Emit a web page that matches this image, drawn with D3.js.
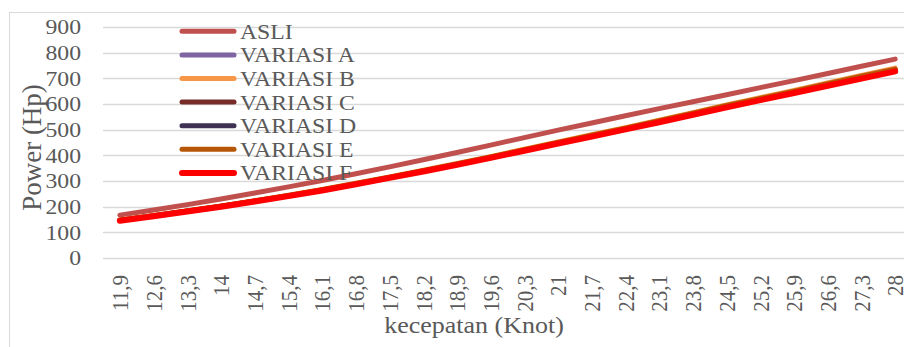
<!DOCTYPE html>
<html>
<head>
<meta charset="utf-8">
<script src="https://cdn.jsdelivr.net/npm/d3@7"></script>
<style>
  html, body { margin: 0; padding: 0; background: #fff; }
  svg { display: block; }
  text { font-family: "Liberation Serif", "Times New Roman", serif; fill: #595959; }
</style>
</head>
<body>
<div id="chart"></div>
<script>
const categories = ["11,9","12,6","13,3","14","14,7","15,4","16,1","16,8","17,5","18,2","18,9","19,6","20,3","21","21,7","22,4","23,1","23,8","24,5","25,2","25,9","26,6","27,3","28"];
const seriesNames = ["ASLI","VARIASI A","VARIASI B","VARIASI C","VARIASI D","VARIASI E","VARIASI F"];
const asli      = [167,187,208,230,253,277,302,328,355,383,411,440,469,498,526,554,582,609,636,664,691,719,747,775];
const variasiA  = [147,165,183,202,222,243,265,289,314,340,366,393,421,449,477,505,534,563,592,621,649,677,706,735];
const variasiB  = [148,166,184,203,223,245,267,291,316,342,368,395,424,452,480,508,537,566,596,625,653,682,711,740];
const variasiC  = [146,164,182,201,221,242,264,288,313,339,365,392,420,448,476,504,532,561,590,618,646,674,702,731];
const variasiD  = [146,164,182,201,221,242,264,288,313,338,364,391,419,447,475,502,531,560,589,617,645,673,701,730];
const variasiE  = [147,165,183,202,222,244,266,290,315,340,366,394,422,450,478,506,535,564,594,622,650,679,708,736];
const variasiF  = [145,163,181,200,220,241,263,287,312,337,363,390,418,446,473,501,529,558,587,615,643,671,699,727];
const yTicks = [0,100,200,300,400,500,600,700,800,900];
const colors = ["#C0504D","#8064A2","#F79646","#772C2A","#3F3151","#B65708","#FF0000"];
const widths = [5,5,5,5,5,5,6];

const allSeries = [asli, variasiA, variasiB, variasiC, variasiD, variasiE, variasiF];

const W = 904, H = 347;
const svg = d3.select("#chart").append("svg").attr("width", W).attr("height", H);

// chart border
svg.append("rect").attr("x", 9.5).attr("y", 12.5).attr("width", 1000).attr("height", 400)
  .attr("fill", "none").attr("stroke", "#d9d9d9").attr("stroke-width", 1);

const x = d3.scaleBand().domain(categories).range([103, 912]);
const y = d3.scaleLinear().domain([0, 900]).range([258, 27]);
const SX = 1.13;

// grid
svg.append("g").selectAll("line").data(yTicks).join("line")
  .attr("x1", 103).attr("x2", 912)
  .attr("y1", d => Math.round(y(d)) + 0.5).attr("y2", d => Math.round(y(d)) + 0.5)
  .attr("stroke", "#d9d9d9").attr("stroke-width", 1.3);

// y tick labels
svg.append("g").selectAll("text").data(yTicks).join("text")
  .attr("transform", d => `translate(81,${y(d) + 7.3}) scale(${SX},1)`)
  .attr("text-anchor", "end").attr("font-size", 21).text(d => d);

// x tick labels
svg.append("g").selectAll("text").data(categories).join("text")
  .attr("transform", d => `translate(${x(d) + x.bandwidth() / 2 + 8.3},275) scale(${SX},1) rotate(-90)`)
  .attr("text-anchor", "end").attr("font-size", 21).text(d => d);

// lines
const line = d3.line()
  .x((d, i) => x(categories[i]) + x.bandwidth() / 2)
  .y(d => y(d));
svg.append("g").selectAll("path").data(allSeries).join("path")
  .attr("d", d => line(d))
  .attr("fill", "none")
  .attr("stroke", (d, i) => colors[i])
  .attr("stroke-width", (d, i) => widths[i])
  .attr("stroke-linecap", "round").attr("stroke-linejoin", "round");

// legend
const leg = svg.append("g").selectAll("g").data(seriesNames).join("g")
  .attr("transform", (d, i) => `translate(0,${31.3 + i * 23.6})`);
leg.append("line").attr("x1", 182).attr("x2", 234).attr("y1", 0).attr("y2", 0)
  .attr("stroke", (d, i) => colors[i]).attr("stroke-width", (d, i) => widths[i])
  .attr("stroke-linecap", "round");
leg.append("text").attr("transform", `translate(240,7.5) scale(${SX},1)`)
  .attr("font-size", 21).text(d => d);

// axis titles
svg.append("text").attr("transform", `translate(474,333) scale(${SX},1)`)
  .attr("text-anchor", "middle").attr("font-size", 23).text("kecepatan (Knot)");
svg.append("text").attr("transform", `translate(41,147.5) rotate(-90)`)
  .attr("text-anchor", "middle").attr("font-size", 27).text("Power (Hp)");
</script>
</body>
</html>
